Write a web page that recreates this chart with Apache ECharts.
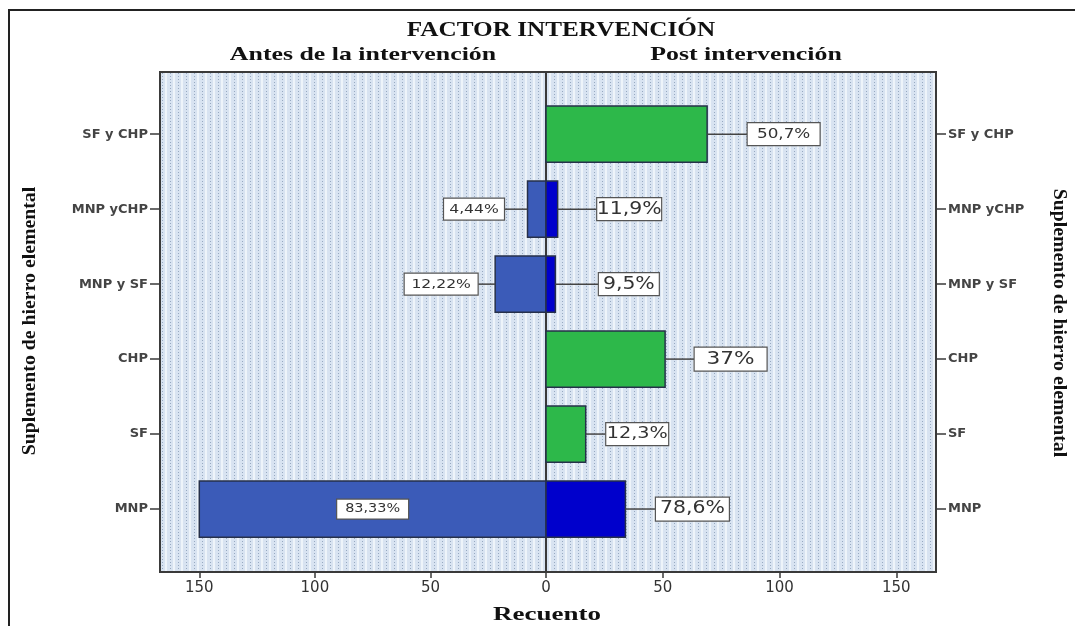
<!DOCTYPE html>
<html>
<head>
<meta charset="utf-8">
<script src="https://cdn.jsdelivr.net/npm/echarts@6/dist/echarts.min.js"></script>
<style>
  html, body { margin: 0; padding: 0; background: #ffffff; }
  #chart { width: 1075px; height: 626px; }
</style>
</head>
<body>
<div id="chart"></div>
<script>
// Categories run bottom to top on the value-based y axis (0 = MNP ... 5 = SF y CHP)
const categories = ['MNP', 'SF', 'CHP', 'MNP y SF', 'MNP yCHP', 'SF y CHP'];
const antesCounts = [150, 0, 0, 22, 8, 0];
const antesLabels = ['83,33%', '', '', '12,22%', '4,44%', ''];
const postCounts = [34, 17, 51, 4, 5, 69];
const postLabels = ['78,6%', '12,3%', '37%', '9,5%', '11,9%', '50,7%'];
const countTicks = [0, 50, 100, 150];
const countMax = 167;

// Label callouts: leader length, box size and font size per category
const antesLabelLayout = [
  { inside: true, w: 72, h: 20, fs: 12 }, null, null,
  { gap: 17, w: 74, h: 22, fs: 13 },
  { gap: 23, w: 61, h: 22, fs: 13 }, null
];
const postLabelLayout = [
  { gap: 30, w: 74, h: 24, fs: 17 },
  { gap: 20, w: 63, h: 23, fs: 16 },
  { gap: 29, w: 73, h: 24, fs: 18 },
  { gap: 43, w: 61, h: 23, fs: 17 },
  { gap: 39, w: 65, h: 23, fs: 17 },
  { gap: 40, w: 73, h: 23, fs: 14 }
];
const ANTES_COLOR = '#3b5bb8';
const BLUE = '#0000cc';
const GREEN = '#2db84a';
const antesFills = categories.map(() => ANTES_COLOR);
const postFills = [BLUE, GREEN, GREEN, BLUE, BLUE, GREEN];
const BAR_BAND = 0.75;      // bar thickness in category units
const TEXT_STRETCH = 1.2;   // horizontal stretch of printed text

// Dotted plot-area fill
function dotPattern() {
  const c = document.createElement('canvas');
  c.width = 8; c.height = 3;
  const g = c.getContext('2d');
  g.fillStyle = '#d8e3f1'; g.fillRect(0, 0, 8, 3);
  g.fillStyle = '#eef4fa'; g.fillRect(5, 0, 2, 3);
  g.fillStyle = '#97a9c1'; g.fillRect(2, 1, 1, 1);
  return c;
}
const plotFill = { image: dotPattern(), repeat: 'repeat' };

function makeRenderer(dir, fills, labels, layouts) {
  return function (params, api) {
    const value = api.value(0);
    const idx = api.value(1);
    if (!value) return null;
    const base = api.coord([0, idx]);
    const end = api.coord([value, idx]);
    const h = api.size([0, BAR_BAND])[1];
    const cy = base[1];
    const children = [{
      type: 'rect',
      shape: { x: Math.min(base[0], end[0]), y: cy - h / 2, width: Math.abs(end[0] - base[0]), height: h },
      style: { fill: fills[idx], stroke: '#26304a', lineWidth: 1.5 }
    }];
    const lay = layouts[idx];
    if (lay && labels[idx]) {
      let bx;
      if (lay.inside) {
        bx = (base[0] + end[0]) / 2 - lay.w / 2;
      } else {
        const tip = end[0];
        const lineEnd = tip + dir * lay.gap;
        children.push({
          type: 'line',
          shape: { x1: tip, y1: cy, x2: lineEnd, y2: cy },
          style: { stroke: '#444444', lineWidth: 1.5 }
        });
        bx = dir > 0 ? lineEnd : lineEnd - lay.w;
      }
      children.push({
        type: 'rect',
        shape: { x: bx, y: cy - lay.h / 2, width: lay.w, height: lay.h },
        style: { fill: '#ffffff', stroke: '#555555', lineWidth: 1.2 }
      });
      children.push({
        type: 'text',
        x: bx + lay.w / 2, y: cy,
        scaleX: TEXT_STRETCH,
        style: {
          text: labels[idx], fill: '#333333',
          font: lay.fs + 'px "DejaVu Sans"',
          textAlign: 'center', textVerticalAlign: 'middle'
        }
      });
    }
    return { type: 'group', children: children };
  };
}

const catIdx = categories.map((c, i) => i);
const yAxisCommon = {
  type: 'value', min: -0.84, max: 5.83,
  splitLine: { show: false },
  axisLine: { show: true, onZero: false, lineStyle: { color: '#3a3a3a', width: 2 } },
  axisTick: { show: true, length: 10, customValues: catIdx, lineStyle: { color: '#3a3a3a', width: 1.5 } },
  axisLabel: {
    customValues: catIdx, margin: 12,
    formatter: v => categories[Math.round(v)],
    fontFamily: 'DejaVu Sans', fontSize: 13, fontWeight: 'bold', color: '#444444'
  }
};
const xAxisCommon = {
  type: 'value', min: 0, max: countMax, position: 'bottom',
  splitLine: { show: false },
  axisLine: { show: true, onZero: false, lineStyle: { color: '#3a3a3a', width: 2 } },
  axisTick: { show: true, length: 6, customValues: countTicks, lineStyle: { color: '#3a3a3a', width: 1.5 } },
  axisLabel: { margin: 9, fontFamily: 'DejaVu Sans', fontSize: 15, color: '#333333' }
};

function serifText(text, x, y, size, stretch, rotation) {
  return {
    type: 'text', x: x, y: y, scaleX: stretch, rotation: rotation || 0,
    style: {
      text: text, fill: '#111111',
      font: 'bold ' + size + 'px "Liberation Serif"',
      textAlign: 'center', textVerticalAlign: 'middle'
    }
  };
}

const chart = echarts.init(document.getElementById('chart'));
chart.setOption({
  animation: false,
  backgroundColor: '#ffffff',
  grid: [
    { left: 160, right: 529, top: 72, bottom: 54, show: true, backgroundColor: plotFill, borderColor: '#3a3a3a', borderWidth: 2 },
    { left: 546, right: 139, top: 72, bottom: 54, show: true, backgroundColor: plotFill, borderColor: '#3a3a3a', borderWidth: 2 }
  ],
  xAxis: [
    Object.assign({}, xAxisCommon, { gridIndex: 0, inverse: true,
      axisLabel: Object.assign({}, xAxisCommon.axisLabel, { customValues: countTicks.filter(v => v > 0) }) }),
    Object.assign({}, xAxisCommon, { gridIndex: 1,
      axisLabel: Object.assign({}, xAxisCommon.axisLabel, { customValues: countTicks }) })
  ],
  yAxis: [
    Object.assign({}, yAxisCommon, { gridIndex: 0, position: 'left' }),
    Object.assign({}, yAxisCommon, { gridIndex: 1, position: 'right' })
  ],
  series: [
    {
      name: 'Antes de la intervención', type: 'custom',
      xAxisIndex: 0, yAxisIndex: 0, clip: false,
      renderItem: makeRenderer(-1, antesFills, antesLabels, antesLabelLayout),
      encode: { x: 0, y: 1 },
      data: antesCounts.map((v, i) => [v, i])
    },
    {
      name: 'Post intervención', type: 'custom',
      xAxisIndex: 1, yAxisIndex: 1, clip: false,
      renderItem: makeRenderer(1, postFills, postLabels, postLabelLayout),
      encode: { x: 0, y: 1 },
      data: postCounts.map((v, i) => [v, i])
    }
  ],
  graphic: [
    { type: 'polyline', shape: { points: [[1080, 10], [9, 10], [9, 630]] }, style: { stroke: '#222222', lineWidth: 2, fill: null } },
    serifText('FACTOR INTERVENCIÓN', 561, 31, 20, 1.26),
    serifText('Antes de la intervención', 363, 55, 19, 1.36),
    serifText('Post intervención', 746, 55, 19, 1.36),
    serifText('Recuento', 547, 615, 18, 1.5),
    serifText('Suplemento de hierro elemental', 30, 321, 18, 1.1, Math.PI / 2),
    serifText('Suplemento de hierro elemental', 1059, 323, 18, 1.1, -Math.PI / 2)
  ]
});
</script>
</body>
</html>
